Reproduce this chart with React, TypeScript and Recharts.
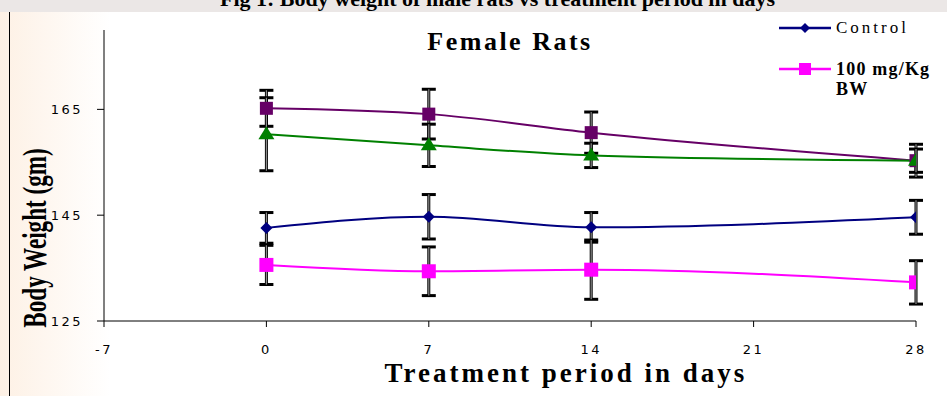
import React from 'react';
import { LineChart, Line, XAxis, YAxis, ErrorBar, Legend } from 'recharts';

// treatment days and body weights (gm)
const days = [0, 7, 14, 28];
const xTicks = [-7, 0, 7, 14, 21, 28];
const yTicks = [125, 145, 165];

const control = [142.6, 144.7, 142.7, 144.6];
const controlErr = [2.9, 4.2, 2.8, 3.2];
const dose100 = [135.6, 134.4, 134.7, 132.3];
const dose100Err = [3.7, 4.6, 5.6, 4.1];
const dosePurple = [165.2, 164.1, 160.6, 155.3];
const dosePurpleErr = [3.4, 4.7, 3.9, 3.1];
const doseGreen = [160.3, 158.2, 156.3, 155.3];
const doseGreenErr = [6.9, 4.0, 2.3, 2.2];

const data = days.map((d, i) => ({
  day: d,
  control: control[i],
  controlErr: controlErr[i],
  dose100: dose100[i],
  dose100Err: dose100Err[i],
  dosePurple: dosePurple[i],
  dosePurpleErr: dosePurpleErr[i],
  doseGreen: doseGreen[i],
  doseGreenErr: doseGreenErr[i],
}));

const COLORS = {
  control: '#000080',
  dose100: '#ff00ff',
  purple: '#660066',
  green: '#008000',
};

const SERIF = '"Liberation Serif", "Times New Roman", serif';

const diamond = (color: string) => (p: any) => {
  const { cx, cy, index } = p;
  if (cx == null || cy == null) return <g key={`d-${index}`} />;
  return (
    <path
      key={`d-${index}`}
      d={`M${cx},${cy - 6} L${cx + 6},${cy} L${cx},${cy + 6} L${cx - 6},${cy} Z`}
      fill={color}
    />
  );
};

const square = (color: string, s: number) => (p: any) => {
  const { cx, cy, index } = p;
  if (cx == null || cy == null) return <g key={`s-${index}`} />;
  return <rect key={`s-${index}`} x={cx - s / 2} y={cy - s / 2} width={s} height={s} fill={color} />;
};

const triangle = (color: string) => (p: any) => {
  const { cx, cy, index } = p;
  if (cx == null || cy == null) return <g key={`t-${index}`} />;
  return (
    <path
      key={`t-${index}`}
      d={`M${cx},${cy - 8} L${cx + 8},${cy + 5} L${cx - 8},${cy + 5} Z`}
      fill={color}
    />
  );
};

// black caps + grey stem, like the original excel bars
const bars = (key: string) => [
  <ErrorBar key={`${key}-a`} dataKey={key} width={7} stroke="#000" strokeWidth={3} direction="y" isAnimationActive={false} />,
  <ErrorBar key={`${key}-b`} dataKey={key} width={0} stroke="#8a8a8a" strokeWidth={1.2} direction="y" isAnimationActive={false} />,
];

function LegendBox() {
  return (
    <div style={{ fontFamily: SERIF, color: '#000', width: 170 }}>
      <div style={{ display: 'flex', alignItems: 'center', height: 20 }}>
        <svg width={57} height={14} style={{ flex: 'none' }}>
          <line x1={0} y1={7} x2={52} y2={7} stroke={COLORS.control} strokeWidth={2.5} />
          <path d="M26,2 L31,7 L26,12 L21,7 Z" fill={COLORS.control} />
        </svg>
        <span style={{ fontSize: 17, letterSpacing: 3 }}>Control</span>
      </div>
      <div style={{ display: 'flex', alignItems: 'flex-start', marginTop: 21 }}>
        <svg width={57} height={20} style={{ flex: 'none' }}>
          <line x1={0} y1={10} x2={52} y2={10} stroke={COLORS.dose100} strokeWidth={2.5} />
          <rect x={20} y={4} width={12} height={12} fill={COLORS.dose100} />
        </svg>
        <span style={{ fontSize: 18, fontWeight: 'bold', lineHeight: '20px', letterSpacing: 1.2 }}>
          100 mg/Kg
          <br />
          BW
        </span>
      </div>
    </div>
  );
}

export default function App() {
  const tick = { fontFamily: '"DejaVu Sans", sans-serif', fontSize: 13, fill: '#000', letterSpacing: 2.5 };
  return (
    <div
      style={{
        position: 'absolute',
        left: 0,
        top: 0,
        width: 947,
        height: 396,
        background: 'linear-gradient(90deg, rgba(250,214,180,0.35) 0px, rgba(255,255,255,0) 110px), #fff',
        overflow: 'hidden',
      }}
    >
      <div style={{ position: 'absolute', left: 0, top: 0, width: 947, height: 12, background: '#ebe7e6' }} />
      <div
        style={{
          position: 'absolute',
          left: 0,
          width: 947,
          top: -14,
          textAlign: 'center',
          fontFamily: SERIF,
          fontWeight: 'bold',
          fontSize: 22,
          paddingLeft: 48,
          boxSizing: 'border-box',
        }}
      >
        Fig 1: Body weight of male rats vs treatment period in days
      </div>
      <div style={{ position: 'absolute', left: 9, top: 12, width: 1, height: 384, background: '#000' }} />

      <LineChart width={947} height={396} data={data} margin={{ top: 30, right: 31, bottom: 0, left: 0 }}>
        <XAxis
          dataKey="day"
          type="number"
          domain={[-7, 28]}
          ticks={xTicks}
          allowDataOverflow
          height={75}
          tickSize={6}
          tickMargin={18}
          stroke="#000"
          tick={tick}
        />
        <YAxis
          type="number"
          domain={[125, 180]}
          ticks={yTicks}
          allowDataOverflow
          width={104}
          tickSize={7}
          tickMargin={14}
          stroke="#000"
          tick={tick}
        />
        <Legend
          layout="horizontal"
          verticalAlign="middle"
          align="center"
          wrapperStyle={{ top: 18, left: 779, width: 170 }}
          content={() => <LegendBox />}
        />
        <Line
          dataKey="dosePurple"
          name="Purple group"
          type="monotone"
          stroke={COLORS.purple}
          strokeWidth={2}
          dot={square(COLORS.purple, 13)}
          isAnimationActive={false}
        >
          {bars('dosePurpleErr')}
        </Line>
        <Line
          dataKey="doseGreen"
          name="Green group"
          type="monotone"
          stroke={COLORS.green}
          strokeWidth={2}
          dot={triangle(COLORS.green)}
          isAnimationActive={false}
        >
          {bars('doseGreenErr')}
        </Line>
        <Line
          dataKey="control"
          name="Control"
          type="monotone"
          stroke={COLORS.control}
          strokeWidth={2}
          dot={diamond(COLORS.control)}
          isAnimationActive={false}
        >
          {bars('controlErr')}
        </Line>
        <Line
          dataKey="dose100"
          name="100 mg/Kg BW"
          type="monotone"
          stroke={COLORS.dose100}
          strokeWidth={2}
          dot={square(COLORS.dose100, 14)}
          isAnimationActive={false}
        >
          {bars('dose100Err')}
        </Line>
      </LineChart>

      <div
        style={{
          position: 'absolute',
          left: 410,
          width: 200,
          top: 27,
          textAlign: 'center',
          fontFamily: SERIF,
          fontWeight: 'bold',
          fontSize: 26,
          letterSpacing: 2.5,
        }}
      >
        Female Rats
      </div>
      <div
        style={{
          position: 'absolute',
          left: 266,
          width: 600,
          top: 358,
          textAlign: 'center',
          fontFamily: SERIF,
          fontWeight: 'bold',
          fontSize: 27,
          letterSpacing: 3,
        }}
      >
        Treatment period in days
      </div>
      <div
        style={{
          position: 'absolute',
          left: 35 - 150,
          top: 238 - 19,
          width: 300,
          height: 38,
          lineHeight: '38px',
          textAlign: 'center',
          transform: 'rotate(-90deg) scaleX(0.7)',
          fontFamily: SERIF,
          fontWeight: 'bold',
          fontSize: 33,
        }}
      >
        Body Weight (gm)
      </div>
    </div>
  );
}
